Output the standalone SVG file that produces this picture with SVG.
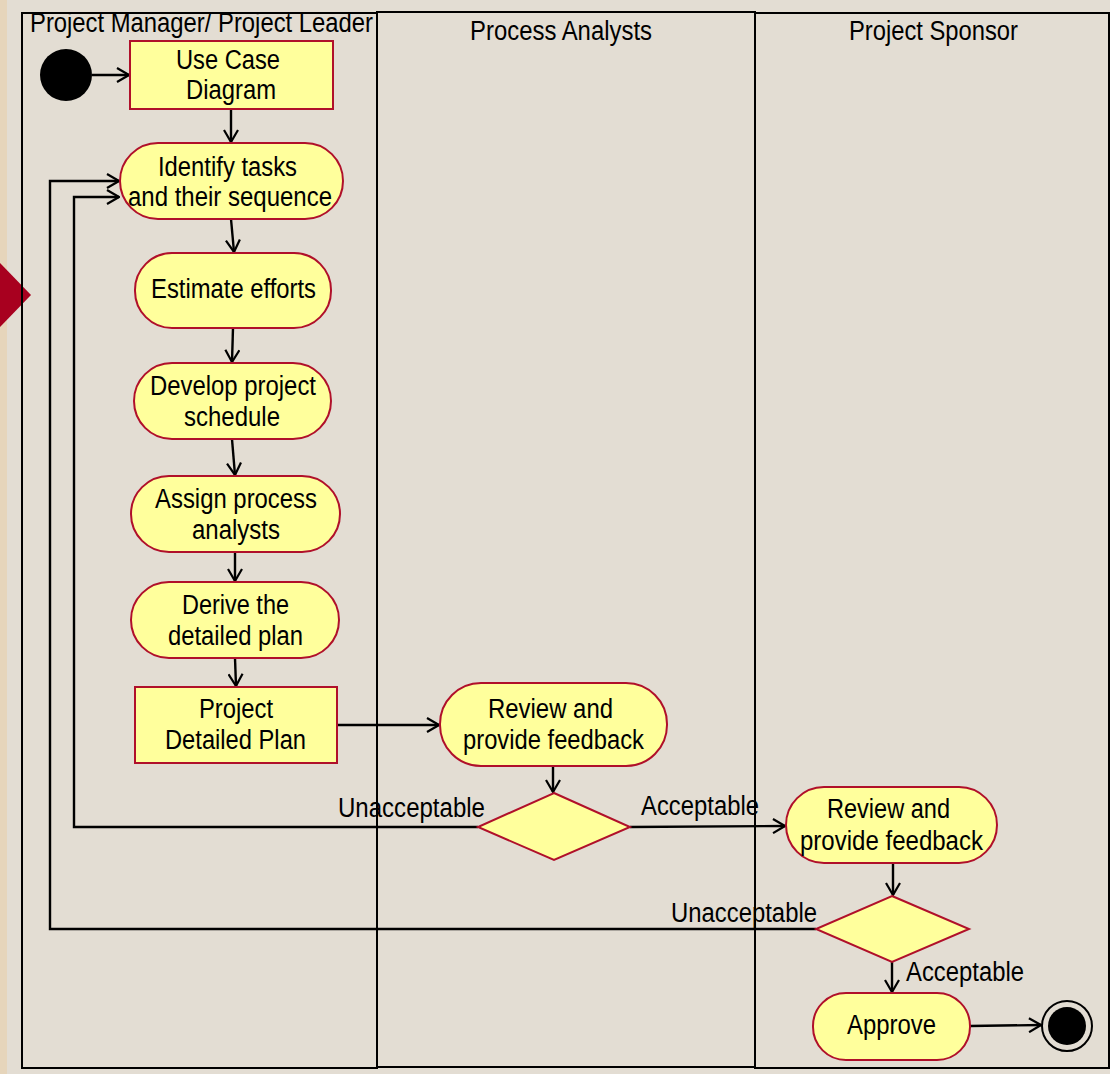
<svg xmlns="http://www.w3.org/2000/svg" width="1110" height="1074" viewBox="0 0 1110 1074">
  <style>
    .bg { fill: #e3ddd3; }
    .lane { fill: none; stroke: #000; stroke-width: 2; }
    .act { fill: #ffff9c; stroke: #b0102a; stroke-width: 2; }
    .conn { fill: none; stroke: #000; stroke-width: 2.4; }
    text { font-family: "Liberation Sans Narrow", "Arial Narrow", "Liberation Sans", sans-serif; font-size: 27px; fill: #000; }
    .c { text-anchor: middle; }
  </style>
  <defs>
    <marker id="arr" viewBox="0 0 14 16" refX="13" refY="8" markerWidth="14" markerHeight="16" orient="auto" markerUnits="userSpaceOnUse">
      <path d="M1,1 L13,8 L1,15" fill="none" stroke="#000" stroke-width="2.2"/>
    </marker>
  </defs>

  <!-- backdrop -->
  <rect class="bg" x="0" y="0" width="1110" height="1074"/>
  <rect x="0" y="0" width="7" height="1074" fill="#e6d5bb"/>
  <polygon points="0,263 31,295 0,327" fill="#a8001f"/>

  <!-- swimlanes -->
  <g id="lanes">
    <g id="lane-pm">
      <rect class="lane" x="22" y="13" width="355" height="1055"/>
      <text x="30" y="32" textLength="343" lengthAdjust="spacingAndGlyphs">Project Manager/ Project Leader</text>
    </g>
    <g id="lane-pa">
      <rect class="lane" x="377" y="12" width="378" height="1055"/>
      <text x="470" y="40" textLength="182" lengthAdjust="spacingAndGlyphs">Process Analysts</text>
    </g>
    <g id="lane-ps">
      <rect class="lane" x="755" y="13" width="354" height="1055"/>
      <text x="849" y="40" textLength="169" lengthAdjust="spacingAndGlyphs">Project Sponsor</text>
    </g>
  </g>

  <!-- connectors -->
  <g id="connectors">
    <line class="conn" x1="92" y1="75" x2="129" y2="75" marker-end="url(#arr)"/>
    <line class="conn" x1="231" y1="109" x2="231" y2="142" marker-end="url(#arr)"/>
    <line class="conn" x1="231" y1="219" x2="234" y2="252" marker-end="url(#arr)"/>
    <line class="conn" x1="233" y1="328" x2="232" y2="362" marker-end="url(#arr)"/>
    <line class="conn" x1="232" y1="439" x2="235" y2="475" marker-end="url(#arr)"/>
    <line class="conn" x1="235" y1="552" x2="235" y2="581" marker-end="url(#arr)"/>
    <line class="conn" x1="235" y1="658" x2="236" y2="686" marker-end="url(#arr)"/>
    <line class="conn" x1="337" y1="725" x2="439" y2="725" marker-end="url(#arr)"/>
    <line class="conn" x1="553" y1="766" x2="553" y2="792" marker-end="url(#arr)"/>
    <polyline class="conn" points="478,827 74,827 74,197 119,197" marker-end="url(#arr)"/>
    <line class="conn" x1="630" y1="827" x2="785" y2="826" marker-end="url(#arr)"/>
    <line class="conn" x1="893" y1="863" x2="893" y2="895" marker-end="url(#arr)"/>
    <polyline class="conn" points="816,929 50,929 50,181 119,181" marker-end="url(#arr)"/>
    <line class="conn" x1="892" y1="962" x2="892" y2="992" marker-end="url(#arr)"/>
    <line class="conn" x1="970" y1="1026" x2="1041" y2="1025" marker-end="url(#arr)"/>
    <text x="338" y="817" textLength="147" lengthAdjust="spacingAndGlyphs">Unacceptable</text>
    <text x="641" y="815" textLength="118" lengthAdjust="spacingAndGlyphs">Acceptable</text>
    <text x="671" y="922" textLength="146" lengthAdjust="spacingAndGlyphs">Unacceptable</text>
    <text x="906" y="981" textLength="118" lengthAdjust="spacingAndGlyphs">Acceptable</text>
  </g>

  <!-- nodes -->
  <g id="start">
    <circle cx="66" cy="75" r="26" fill="#000"/>
  </g>
  <g id="use-case-diagram">
    <rect class="act" x="130" y="41" width="203" height="68"/>
    <text x="176" y="69" textLength="104" lengthAdjust="spacingAndGlyphs">Use Case</text>
    <text x="186" y="99" textLength="90" lengthAdjust="spacingAndGlyphs">Diagram</text>
  </g>
  <g id="identify-tasks">
    <rect class="act" x="120" y="143" width="223" height="76" rx="38"/>
    <text x="158" y="176" textLength="139" lengthAdjust="spacingAndGlyphs">Identify tasks</text>
    <text x="128" y="206" textLength="204" lengthAdjust="spacingAndGlyphs">and their sequence</text>
  </g>
  <g id="estimate-efforts">
    <rect class="act" x="135" y="253" width="196" height="75" rx="37"/>
    <text x="151" y="298" textLength="165" lengthAdjust="spacingAndGlyphs">Estimate efforts</text>
  </g>
  <g id="develop-schedule">
    <rect class="act" x="134" y="363" width="197" height="76" rx="38"/>
    <text x="150" y="395" textLength="166" lengthAdjust="spacingAndGlyphs">Develop project</text>
    <text x="184" y="426" textLength="96" lengthAdjust="spacingAndGlyphs">schedule</text>
  </g>
  <g id="assign-analysts">
    <rect class="act" x="131" y="476" width="209" height="76" rx="38"/>
    <text x="155" y="508" textLength="162" lengthAdjust="spacingAndGlyphs">Assign process</text>
    <text x="192" y="539" textLength="88" lengthAdjust="spacingAndGlyphs">analysts</text>
  </g>
  <g id="derive-plan">
    <rect class="act" x="131" y="582" width="208" height="76" rx="38"/>
    <text x="182" y="614" textLength="107" lengthAdjust="spacingAndGlyphs">Derive the</text>
    <text x="168" y="645" textLength="135" lengthAdjust="spacingAndGlyphs">detailed plan</text>
  </g>
  <g id="project-detailed-plan">
    <rect class="act" x="135" y="687" width="202" height="76"/>
    <text x="199" y="718" textLength="74" lengthAdjust="spacingAndGlyphs">Project</text>
    <text x="165" y="749" textLength="141" lengthAdjust="spacingAndGlyphs">Detailed Plan</text>
  </g>
  <g id="review-analysts">
    <rect class="act" x="440" y="683" width="227" height="83" rx="41"/>
    <text x="488" y="718" textLength="125" lengthAdjust="spacingAndGlyphs">Review and</text>
    <text x="463" y="749" textLength="181" lengthAdjust="spacingAndGlyphs">provide feedback</text>
  </g>
  <g id="decision-analysts">
    <polygon class="act" points="554,793 630,827 554,860 478,827"/>
  </g>
  <g id="review-sponsor">
    <rect class="act" x="786" y="787" width="211" height="76" rx="38"/>
    <text x="827" y="818" textLength="123" lengthAdjust="spacingAndGlyphs">Review and</text>
    <text x="800" y="850" textLength="183" lengthAdjust="spacingAndGlyphs">provide feedback</text>
  </g>
  <g id="decision-sponsor">
    <polygon class="act" points="892,896 969,929 892,962 816,929"/>
  </g>
  <g id="approve">
    <rect class="act" x="813" y="993" width="157" height="67" rx="33"/>
    <text x="847" y="1034" textLength="89" lengthAdjust="spacingAndGlyphs">Approve</text>
  </g>
  <g id="end">
    <circle cx="1067" cy="1026" r="25" fill="none" stroke="#000" stroke-width="2"/>
    <circle cx="1067" cy="1026" r="19" fill="#000"/>
  </g>
</svg>
